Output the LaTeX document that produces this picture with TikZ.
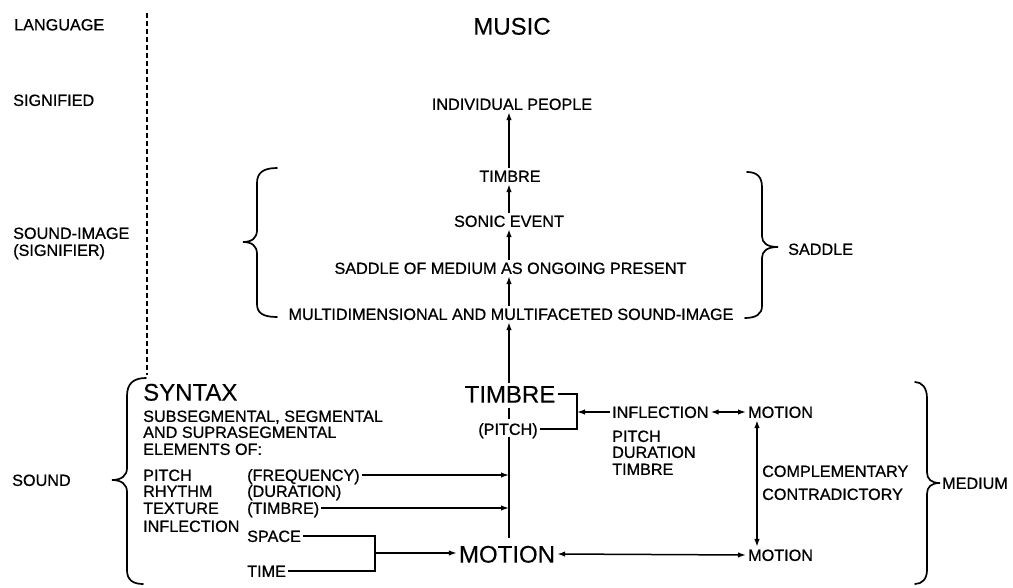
\documentclass[tikz,border=0pt]{standalone}
\usepackage{fontspec}
\setmainfont{Liberation Sans}
\newfontfamily\semib{Liberation Sans}[FakeBold=0.7]
\newfontfamily\largef{Liberation Sans}[FakeBold=0.3]
\usetikzlibrary{arrows.meta,calc}
\begin{document}
\begin{tikzpicture}[x=1pt,y=-1pt,
 sm/.style={font=\semib\fontsize{16.2}{18}\selectfont, inner sep=2pt, text height=11.8pt, text depth=0pt},
 lg/.style={font=\largef\fontsize{24}{28}\selectfont, inner sep=2pt, text height=17.2pt, text depth=0pt},
 ln/.style={line width=1.5pt},
 arr/.style={ln,-{Latex[length=8pt,width=5.5pt]}},
 arrb/.style={ln,{Latex[length=8pt,width=5.5pt]}-{Latex[length=8pt,width=5.5pt]}},
 bracestyle/.style={line width=1.7pt, line cap=round},
 dashline/.style={line width=2.6pt, dash pattern=on 5pt off 3pt}]
\useasboundingbox (0,0) rectangle (1013,588);
\fill[white] (0,0) rectangle (1013,588);

% left column
\node[sm,anchor=west] (language) at (12,24.5) {LANGUAGE};
\node[sm,anchor=west] (signified) at (11,100) {SIGNIFIED};
\node[sm,anchor=west] (soundimage) at (11,233) {SOUND-IMAGE};
\node[sm,anchor=west] (signifier) at (11,250) {(SIGNIFIER)};
\node[sm,anchor=west] (sound) at (10,480) {SOUND};

% dashed divider
\coordinate (dtop) at (147,13);
\coordinate (dbot) at (147,375);
\draw[dashline] (dtop) -- (dbot);

% top chain
\node[lg] (music) at (512,26) {MUSIC};
\node[sm] (people) at (512,104) {INDIVIDUAL PEOPLE};
\node[sm] (timbreA) at (510,176) {TIMBRE};
\node[sm] (sonic) at (509,221) {SONIC EVENT};
\node[sm] (saddlemed) at (510.5,268) {SADDLE OF MEDIUM AS ONGOING PRESENT};
\node[sm] (multi) at (511,314) {MULTIDIMENSIONAL AND MULTIFACETED SOUND-IMAGE};
\node[sm,anchor=west] (saddle) at (786,249) {SADDLE};

\coordinate (spine) at (509,0);
\draw[arr] (timbreA.north -| spine) -- (people.south -| spine);
\draw[arr] (sonic.north -| spine) -- (timbreA.south -| spine);
\draw[arr] (saddlemed.north -| spine) -- (sonic.south -| spine);
\draw[arr] (multi.north -| spine) -- (saddlemed.south -| spine);

% saddle braces
\draw[bracestyle] (277,168) .. controls (263,168) and (257,173) .. (257,183) -- (257,230) .. controls (257,238) and (252,242) .. (243,242) .. controls (252,242) and (257,246) .. (257,254) -- (257,304) .. controls (257,313) and (263,317) .. (277,317);
\draw[bracestyle] (747,172) .. controls (757,172) and (762,177) .. (762,187) -- (762,236) .. controls (762,243) and (767,247) .. (778,247) .. controls (767,247) and (762,251) .. (762,258) -- (762,306) .. controls (762,314) and (756,318) .. (745,318);

% syntax block
\node[lg,anchor=west] (syntax) at (141,392) {SYNTAX};
\node[sm,anchor=west] (subseg) at (141,416) {SUBSEGMENTAL, SEGMENTAL};
\node[sm,anchor=west] (supra) at (141,432) {AND SUPRASEGMENTAL};
\node[sm,anchor=west] (elements) at (141,449) {ELEMENTS OF:};
\node[sm,anchor=west] (pitchL) at (141,475) {PITCH};
\node[sm,anchor=west] (rhythm) at (141,491) {RHYTHM};
\node[sm,anchor=west] (texture) at (141,508) {TEXTURE};
\node[sm,anchor=west] (inflL) at (141,526) {INFLECTION};
\node[sm,anchor=west] (freq) at (245,475) {(FREQUENCY)};
\node[sm,anchor=west] (dur) at (245,491) {(DURATION)};
\node[sm,anchor=west] (timbreP) at (245,508) {(TIMBRE)};
\node[sm,anchor=west] (space) at (245,536) {SPACE};
\node[sm,anchor=west] (time) at (245,571) {TIME};

% sound brace
\draw[bracestyle] (146,378) .. controls (133,378) and (127,384) .. (127,396) -- (127,468) .. controls (127,476) and (121,480) .. (112,480) .. controls (121,480) and (127,484) .. (127,492) -- (127,570) .. controls (127,580) and (133,584) .. (143,584);

% centre column
\node[lg] (timbreB) at (510,394) {TIMBRE};
\node[sm] (pitchC) at (508,429) {(PITCH)};
\node[lg] (motionB) at (507,554) {MOTION};

\draw[arr] (timbreB.north -| spine) -- (multi.south -| spine);
\draw[ln,shorten <=3pt,shorten >=2pt] (timbreB.south -| spine) -- (pitchC.north -| spine);
\draw[ln,shorten >=5pt] (pitchC.south -| spine) -- (motionB.north -| spine);

\draw[arr] (freq.east) -- (freq.east -| spine);
\draw[arr] (timbreP.east) -- (timbreP.east -| spine);

\coordinate (jn) at (375,553);
\draw[ln] (space.east) -| (jn);
\draw[ln] (time.east) -| (jn);
\draw[arr] (jn) -- (motionB.west |- jn);

% inflection block
\node[sm,anchor=west] (inflR) at (610,412) {INFLECTION};
\node[sm,anchor=west] (pitchR) at (610,436) {PITCH};
\node[sm,anchor=west] (durR) at (610,452) {DURATION};
\node[sm,anchor=west] (timbreR) at (610,469) {TIMBRE};

\coordinate (tb) at (577,412);
\draw[ln] (timbreB.east) -| (tb) |- (pitchC.east);
\draw[arr] (inflR.west) -- (tb);

\node[sm,anchor=west] (motionU) at (746,412) {MOTION};
\node[sm,anchor=west] (motionR) at (746,555) {MOTION};
\draw[arrb] (inflR.east) -- (motionU.west);
\draw[arrb] (motionB.east) -- (motionR.west);

\coordinate (vr) at (757,0);
\draw[arrb] (motionU.south -| vr) -- (motionR.north -| vr);
\node[sm,anchor=west] (compl) at (760,471) {COMPLEMENTARY};
\node[sm,anchor=west] (contra) at (760,494) {CONTRADICTORY};

% medium brace
\draw[bracestyle] (915,382) .. controls (922,382) and (927,388) .. (927,398) -- (927,472) .. controls (927,479) and (931,483) .. (940,483) .. controls (931,483) and (927,487) .. (927,494) -- (927,570) .. controls (927,579) and (922,584) .. (915,584);
\node[sm,anchor=west] (medium) at (940,483) {MEDIUM};
\end{tikzpicture}
\end{document}
